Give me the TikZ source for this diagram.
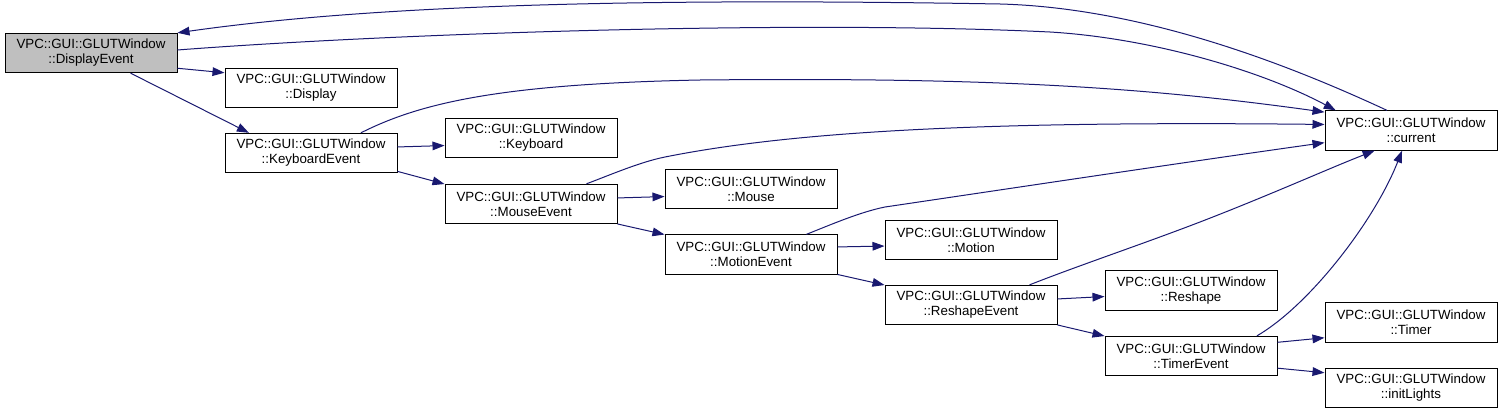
\documentclass[tikz,border=0pt]{standalone}
\usepackage{fontspec}
\setmainfont{Liberation Sans}
\usetikzlibrary{arrows.meta}
\definecolor{callblue}{RGB}{25,25,112}
\definecolor{cur}{RGB}{191,191,191}

\begin{document}
\begin{tikzpicture}[x=0.75pt, y=-0.75pt, every node/.style={rectangle,draw=black,line width=0.75pt,fill=white,
  minimum width=129pt,minimum height=29.5pt,inner sep=1pt,align=center,font=\fontsize{10}{11.25}\selectfont},
  call/.style={draw=callblue,line width=0.75pt,-{Triangle[length=9pt,width=6.5pt]}}]
\useasboundingbox (0,0) rectangle (1503,414);
\node[fill=cur] (DE) at (91,53) {VPC::GUI::GLUTWindow\\::DisplayEvent};
\node (Dis) at (311,88) {VPC::GUI::GLUTWindow\\::Display};
\node (KE) at (311,153) {VPC::GUI::GLUTWindow\\::KeyboardEvent};
\node (Kb) at (531,138) {VPC::GUI::GLUTWindow\\::Keyboard};
\node (ME) at (531,204) {VPC::GUI::GLUTWindow\\::MouseEvent};
\node (Mo) at (751,189) {VPC::GUI::GLUTWindow\\::Mouse};
\node (MoE) at (751,254.5) {VPC::GUI::GLUTWindow\\::MotionEvent};
\node (Mot) at (971,240) {VPC::GUI::GLUTWindow\\::Motion};
\node (RE) at (971,305) {VPC::GUI::GLUTWindow\\::ReshapeEvent};
\node (Res) at (1191,290.5) {VPC::GUI::GLUTWindow\\::Reshape};
\node (TE) at (1191,356) {VPC::GUI::GLUTWindow\\::TimerEvent};
\node (Cur) at (1411,130.5) {VPC::GUI::GLUTWindow\\::current};
\node (Tim) at (1411,322.5) {VPC::GUI::GLUTWindow\\::Timer};
\node (IL) at (1411,388) {VPC::GUI::GLUTWindow\\::initLights};
\draw[call] (DE.-10) -- (Dis.170);
\draw[call] (DE.-27) -- (KE.162);
\draw[call] (DE.2) .. controls (400,33) and (800,20) .. (1050,32) .. controls (1150,38) and (1260,70) .. (Cur.165);
\draw[call] (Cur.140) .. controls (1300,70) and (1150,8) .. (1000,4) .. controls (650,-2) and (380,4) .. (DE.north east);
\draw[call] (KE.4) -- (Kb.-175);
\draw[call] (KE.-12) -- (ME.167);
\draw[call] (KE.22) .. controls (420,103) and (500,84) .. (700,80) .. controls (1000,77) and (1150,88) .. (Cur.168);
\draw[call] (ME.4) -- (Mo.-175);
\draw[call] (ME.-13) -- (MoE.167);
\draw[call] (ME.20) .. controls (610,175) and (640,162) .. (665,157) .. controls (800,130) and (1000,121) .. (Cur.176);
\draw[call] (MoE.5) -- (Mot.-176);
\draw[call] (MoE.-13) -- (RE.167);
\draw[call] (MoE.20) .. controls (830,225) and (860,212) .. (885,207) .. controls (1000,190) and (1200,160) .. (Cur.-172);
\draw[call] (RE.4) -- (Res.-176);
\draw[call] (RE.-13) -- (TE.167);
\draw[call] (RE.19) .. controls (1080,265) and (1140,245) .. (1200,222) .. controls (1270,195) and (1330,168) .. (Cur.-151);
\draw[call] (TE.9) -- (Tim.-170);
\draw[call] (TE.-8) -- (IL.170);
\draw[call] (TE.17) .. controls (1310,305) and (1375,220) .. (Cur.-114);
\end{tikzpicture}
\end{document}
